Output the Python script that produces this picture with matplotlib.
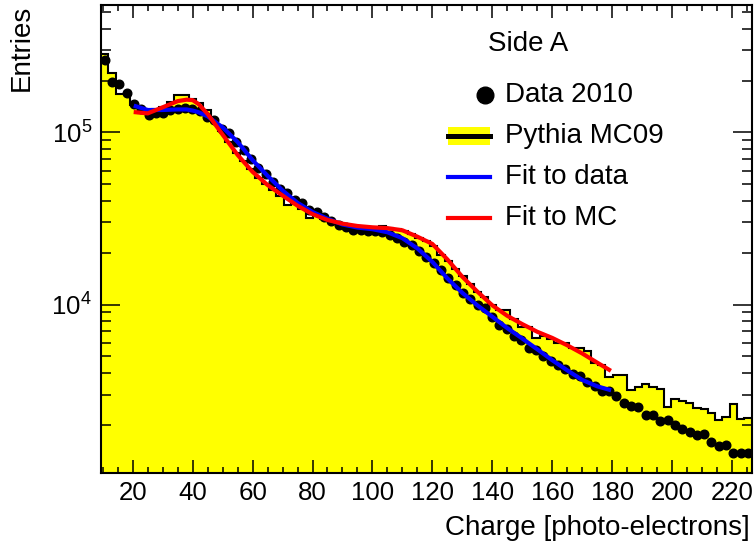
import numpy as np
import matplotlib
matplotlib.use("Agg")
import matplotlib.pyplot as plt
from matplotlib.ticker import MultipleLocator, LogLocator, NullFormatter
from matplotlib.patches import Rectangle
from matplotlib.lines import Line2D

plt.rcParams['font.family'] = ['Liberation Sans', 'DejaVu Sans']
plt.rcParams['mathtext.fontset'] = 'custom'
plt.rcParams['mathtext.rm'] = 'Liberation Sans'
plt.rcParams['mathtext.it'] = 'Liberation Sans:italic'
plt.rcParams['mathtext.bf'] = 'Liberation Sans:bold'

# ---- binning ----
bin_lo, bin_hi, n_bins = 9.4, 226.6, 89

# ---- Data 2010 (points) ----
data_2010 = [2.62e5, 1.96e5, 1.90e5, 1.69e5, 1.47e5, 1.36e5, 1.26e5, 1.29e5, 1.29e5, 1.35e5,
             1.37e5, 1.38e5, 1.36e5, 1.33e5, 1.23e5, 1.18e5, 1.04e5, 9.9e4, 8.8e4, 7.95e4,
             6.97e4, 6.22e4, 5.70e4, 5.16e4, 4.67e4, 4.46e4, 4.04e4, 3.87e4, 3.54e4, 3.46e4,
             3.24e4, 3.05e4, 2.90e4, 2.83e4, 2.71e4, 2.71e4, 2.67e4, 2.67e4, 2.65e4, 2.54e4,
             2.43e4, 2.32e4, 2.22e4, 2.05e4, 1.88e4, 1.74e4, 1.58e4, 1.42e4, 1.30e4, 1.17e4,
             1.07e4, 1.00e4, 9.6e3, 8.5e3, 7.6e3, 7.2e3, 6.58e3, 6.24e3, 5.58e3, 5.41e3,
             5.04e3, 4.67e3, 4.47e3, 4.22e3, 3.94e3, 3.82e3, 3.53e3, 3.37e3, 3.16e3, 3.16e3,
             2.93e3, 2.68e3, 2.59e3, 2.53e3, 2.29e3, 2.29e3, 2.10e3, 2.12e3, 1.99e3, 1.90e3,
             1.82e3, 1.74e3, 1.77e3, 1.60e3, 1.50e3, 1.53e3, 1.38e3, 1.38e3, 1.38e3]

# ---- Pythia MC09 (histogram) ----
mc_pythia = [2.87e5, 2.2e5, 1.68e5, 1.68e5, 1.44e5, 1.29e5, 1.30e5, 1.36e5, 1.41e5, 1.50e5,
             1.64e5, 1.64e5, 1.57e5, 1.48e5, 1.35e5, 1.20e5, 1.02e5, 8.8e4, 7.6e4, 6.8e4,
             6.1e4, 5.4e4, 5.0e4, 4.65e4, 4.3e4, 3.8e4, 3.85e4, 3.6e4, 3.2e4, 3.3e4,
             3.15e4, 3.05e4, 2.95e4, 2.9e4, 2.85e4, 2.83e4, 2.8e4, 2.78e4, 2.85e4, 2.8e4,
             2.75e4, 2.68e4, 2.58e4, 2.45e4, 2.35e4, 2.2e4, 1.95e4, 1.78e4, 1.6e4, 1.47e4,
             1.32e4, 1.18e4, 1.1e4, 1.0e4, 9.3e3, 9.3e3, 8.2e3, 7.45e3, 7.45e3, 6.4e3,
             6.6e3, 6.3e3, 6.0e3, 5.96e3, 5.58e3, 5.58e3, 5.4e3, 4.55e3, 4.45e3, 3.8e3,
             3.88e3, 3.88e3, 3.2e3, 3.3e3, 3.45e3, 3.33e3, 3.25e3, 2.55e3, 2.84e3, 2.74e3,
             2.67e3, 2.5e3, 2.47e3, 2.35e3, 2.13e3, 2.22e3, 2.66e3, 2.17e3, 2.19e3]

# ---- fits ----
fit_x = [21, 25, 30, 35, 38, 40, 42, 45, 50, 55, 60, 65, 70, 75, 80, 85, 90, 95, 100,
         105, 110, 115, 120, 125, 130, 135, 140, 145, 150, 155, 160, 165, 170, 175, 179]
fit_data = [1.42e5, 1.35e5, 1.35e5, 1.36e5, 1.36e5, 1.34e5, 1.31e5, 1.24e5, 1.07e5, 8.8e4,
            6.9e4, 5.6e4, 4.6e4, 3.9e4, 3.45e4, 3.15e4, 2.92e4, 2.8e4, 2.74e4,
            2.63e4, 2.43e4, 2.12e4, 1.77e4, 1.42e4, 1.17e4, 9.9e3, 8.5e3, 7.3e3, 6.35e3,
            5.5e3, 4.75e3, 4.15e3, 3.65e3, 3.35e3, 3.2e3]
fit_mc = [1.31e5, 1.29e5, 1.40e5, 1.52e5, 1.55e5, 1.54e5, 1.46e5, 1.28e5, 9.7e4, 7.4e4,
          5.9e4, 4.95e4, 4.3e4, 3.75e4, 3.35e4, 3.1e4, 2.95e4, 2.86e4, 2.81e4,
          2.78e4, 2.7e4, 2.48e4, 2.25e4, 1.83e4, 1.45e4, 1.19e4, 9.9e3, 8.6e3, 7.7e3,
          6.95e3, 6.4e3, 5.8e3, 5.2e3, 4.6e3, 4.18e3]

edges = np.linspace(bin_lo, bin_hi, n_bins + 1)
centers = 0.5 * (edges[:-1] + edges[1:])

W, H = 756, 547
fig = plt.figure(figsize=(W / 100, H / 100), dpi=100)
ax_l, ax_r, ax_t, ax_b = 101, 751.7, 5, 473
ax = fig.add_axes([ax_l / W, 1 - ax_b / H, (ax_r - ax_l) / W, (ax_b - ax_t) / H])

ax.set_yscale('log')
ax.stairs(mc_pythia, edges, baseline=1.0, fill=True, color='#ffff00', zorder=1)
ax.stairs(mc_pythia, edges, baseline=None, color='black', lw=1.5, zorder=2)
ax.plot(centers, data_2010, 'o', color='black', ms=6.2, zorder=3)
ax.plot(fit_x, fit_data, color='#0000ff', lw=3, zorder=4, solid_joinstyle='round')
ax.plot(fit_x, fit_mc, color='#ff0000', lw=3, zorder=5, solid_joinstyle='round')

ax.set_xlim(bin_lo, bin_hi)
ax.set_ylim(1050, 5.5e5)

ax.xaxis.set_major_locator(MultipleLocator(20))
ax.xaxis.set_minor_locator(MultipleLocator(5))
ax.yaxis.set_major_locator(LogLocator(base=10))
ax.yaxis.set_minor_locator(LogLocator(base=10, subs=np.arange(2, 10)))
ax.yaxis.set_minor_formatter(NullFormatter())

ax.tick_params(axis='both', which='both', direction='in', top=True, right=True,
               colors='black', width=1.1, labelsize=18.6)
ax.tick_params(axis='x', which='major', length=9.4, pad=6)
ax.tick_params(axis='x', which='minor', length=4.5)
ax.tick_params(axis='y', which='major', length=13.7, pad=6.5)
ax.tick_params(axis='y', which='minor', length=7.2)
for s in ax.spines.values():
    s.set_linewidth(1.5)
    s.set_zorder(10)

# axis titles (ROOT style, aligned to ends)
fx = lambda px: (px - ax_l) / (ax_r - ax_l)
fy = lambda py: (ax_b - py) / (ax_b - ax_t)
ax.text(fx(750), fy(535), 'Charge [photo-electrons]', transform=ax.transAxes,
        ha='right', va='baseline', fontsize=20)
ax.text(fx(22), fy(5), 'Entries', transform=ax.transAxes, rotation=90,
        ha='center', va='top', fontsize=20)

# legend (drawn manually)
ax.text(fx(488), fy(44), 'Side A', transform=ax.transAxes, ha='left', va='center', fontsize=20)
ax.add_patch(Rectangle((fx(448), fy(145)), fx(490) - fx(448), fy(127) - fy(145),
                       transform=ax.transAxes, facecolor='#ffff00', edgecolor='none', zorder=6))
legend_rows = [('Data 2010', 95), ('Pythia MC09', 136), ('Fit to data', 177), ('Fit to MC', 218)]
ax.add_line(Line2D([fx(485)], [fy(95)], marker='o', color='black', ms=12,
                   transform=ax.transAxes, zorder=7))
ax.add_line(Line2D([fx(448), fx(490)], [fy(136), fy(136)], color='black', lw=3.6,
                   transform=ax.transAxes, zorder=7))
ax.add_line(Line2D([fx(448), fx(490)], [fy(177), fy(177)], color='#0000ff', lw=3,
                   transform=ax.transAxes, zorder=7))
ax.add_line(Line2D([fx(448), fx(490)], [fy(218), fy(218)], color='#ff0000', lw=3,
                   transform=ax.transAxes, zorder=7))
for label, py in legend_rows:
    ax.text(fx(505), fy(py), label, transform=ax.transAxes, ha='left', va='center',
            fontsize=20, zorder=8)

fig.savefig('out.png', dpi=100, facecolor='white')
